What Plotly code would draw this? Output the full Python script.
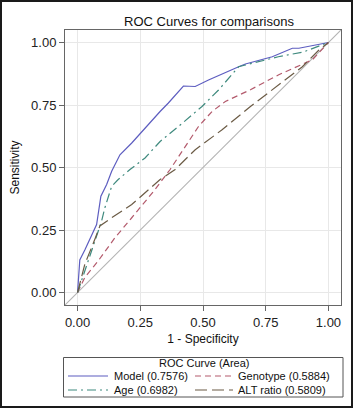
import plotly.graph_objects as go

# ---- data ----
model_x = [0, 0.009, 0.029, 0.056, 0.076, 0.093, 0.116, 0.136, 0.169, 0.216, 0.269, 0.329, 0.362, 0.422, 0.469, 0.522, 0.642, 0.669, 0.776, 0.856, 0.882, 1.0]
model_y = [0, 0.13, 0.17, 0.226, 0.272, 0.385, 0.432, 0.485, 0.551, 0.598, 0.658, 0.724, 0.758, 0.826, 0.824, 0.85, 0.903, 0.914, 0.943, 0.977, 0.977, 1.0]

geno_x = [0, 0.029, 0.082, 0.149, 0.216, 0.309, 0.369, 0.429, 0.482, 0.536, 0.589, 0.689, 0.802, 0.936, 1.0]
geno_y = [0, 0.06, 0.126, 0.219, 0.299, 0.412, 0.492, 0.585, 0.664, 0.724, 0.764, 0.811, 0.871, 0.931, 1.0]

age_x = [0, 0.029, 0.062, 0.082, 0.096, 0.109, 0.136, 0.162, 0.209, 0.269, 0.329, 0.402, 0.496, 0.562, 0.642, 0.669, 0.8, 0.9, 1.0]
age_y = [0, 0.086, 0.193, 0.252, 0.286, 0.339, 0.425, 0.452, 0.492, 0.538, 0.604, 0.664, 0.744, 0.81, 0.903, 0.91, 0.943, 0.962, 1.0]

alt_x = [0, 0.029, 0.069, 0.089, 0.136, 0.216, 0.329, 0.389, 0.469, 0.576, 0.689, 0.802, 0.896, 0.962, 1.0]
alt_y = [0, 0.113, 0.213, 0.266, 0.299, 0.352, 0.452, 0.492, 0.571, 0.651, 0.744, 0.83, 0.903, 0.97, 1.0]

ref_line = [-0.05, 1.05]

names = ["Model (0.7576)", "Genotype (0.5884)", "Age (0.6982)", "ALT ratio (0.5809)"]
legend_title = "ROC Curve (Area)"
tick_vals = [0, 0.25, 0.5, 0.75, 1.0]
tick_text = ["0.00", "0.25", "0.50", "0.75", "1.00"]

FONT = "Liberation Sans, Arial, sans-serif"
W, H = 353, 408
ML, MR, MT, MB = 65, 12, 30, 103
PW, PH = W - ML - MR, H - MT - MB


def px(xp):
    return (xp - ML) / PW


def py(yp):
    return (H - MB - yp) / PH


fig = go.Figure()
fig.add_trace(go.Scatter(x=ref_line, y=ref_line, mode="lines",
                         line=dict(color="#b4b4b4", width=1.1), showlegend=False, hoverinfo="skip"))
series = [
    (model_x, model_y, names[0], "#5d5dc0", "solid"),
    (geno_x, geno_y, names[1], "#b35a6c", "6px,4px"),
    (age_x, age_y, names[2], "#3f8a7e", "9px,4px,2px,4px"),
    (alt_x, alt_y, names[3], "#6b5b45", "12px,5px"),
]
for xs, ys, nm, col, dash in series:
    fig.add_trace(go.Scatter(x=xs, y=ys, mode="lines", name=nm, showlegend=False,
                             line=dict(color=col, width=1.2, dash=dash)))

axis_common = dict(
    range=[-0.05, 1.05], tickvals=tick_vals, ticktext=tick_text, automargin=False,
    showgrid=True, gridcolor="#e8e8e8", gridwidth=1, zeroline=False,
    showline=True, mirror=True, linecolor="#666666", linewidth=1,
    ticks="outside", ticklen=5, tickcolor="#666666",
    tickfont=dict(size=13, color="#222222", family=FONT),
)

shapes = [dict(type="rect", xref="paper", yref="paper",
               x0=px(1), x1=px(352), y0=py(407), y1=py(1),
               line=dict(color="#1a1a1a", width=2), layer="above")]
annotations = []

# legend box (drawn as shapes/annotations to match the compact original legend)
shapes.append(dict(type="rect", xref="paper", yref="paper",
                   x0=px(63.5), x1=px(343), y0=py(397), y1=py(357.5),
                   line=dict(color="#555555", width=1), fillcolor="white", layer="above"))
annotations.append(dict(text=legend_title, xref="paper", yref="paper",
                        x=px(204), y=py(363), xanchor="center", yanchor="middle",
                        showarrow=False, font=dict(size=11, family=FONT, color="#111111")))
slots = [(68, 108, 112, 376), (195, 233, 236, 376), (68, 108, 112, 390), (195, 233, 236, 390)]
for (xs, ys, nm, col, dash), (l0, l1, tx, ty) in zip(series, slots):
    shapes.append(dict(type="line", xref="paper", yref="paper",
                       x0=px(l0), x1=px(l1), y0=py(ty), y1=py(ty),
                       line=dict(color=col, width=1.2, dash=dash), layer="above"))
    annotations.append(dict(text=nm, xref="paper", yref="paper", x=px(tx), y=py(ty),
                            xanchor="left", yanchor="middle", showarrow=False,
                            font=dict(size=11, family=FONT, color="#111111")))

fig.update_layout(
    width=W, height=H,
    margin=dict(l=ML, r=MR, t=MT, b=MB, autoexpand=False),
    paper_bgcolor="white", plot_bgcolor="white",
    font=dict(family=FONT, color="#111111"),
    showlegend=False,
    title=dict(text="ROC Curves for comparisons", x=209 / W, xanchor="center",
               y=1 - 21 / H, yanchor="middle", yref="container",
               font=dict(size=13, family=FONT, color="#111111")),
    xaxis=dict(axis_common, title=dict(text="1 - Specificity", standoff=6,
                                       font=dict(size=12, family=FONT))),
    yaxis=dict(axis_common, title=dict(text="Sensitivity", standoff=8,
                                       font=dict(size=12, family=FONT))),
    shapes=shapes,
    annotations=annotations,
)

fig.write_html("out.html")
